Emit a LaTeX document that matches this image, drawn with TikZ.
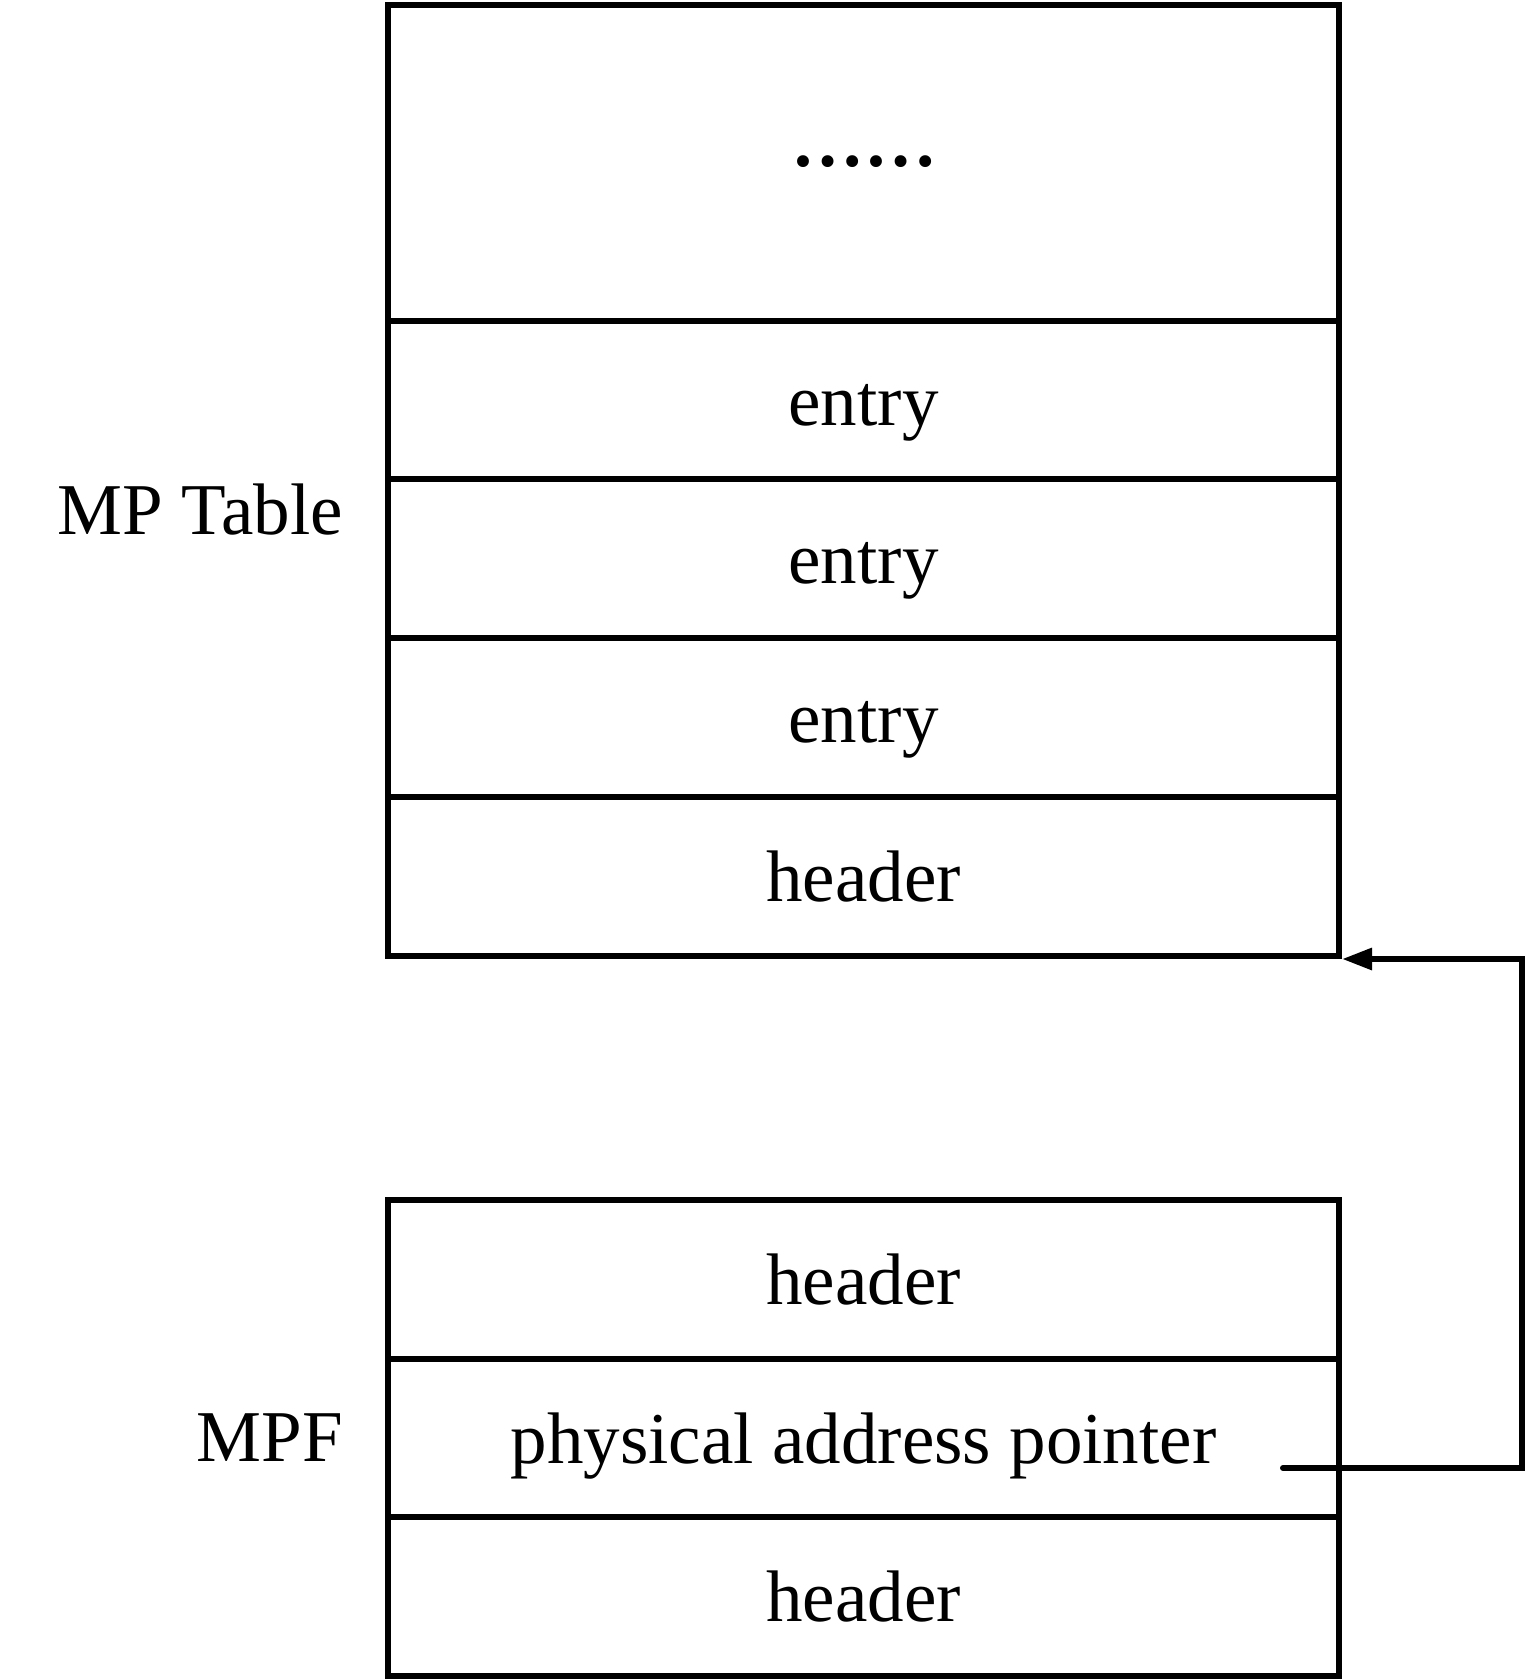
\documentclass[tikz,border=0pt]{standalone}
\usepackage{fontspec}
\setmainfont{Liberation Serif}
\usetikzlibrary{arrows.meta}
\begin{document}
\begin{tikzpicture}[x=1pt,y=-1pt,
  cell/.style={draw, line width=6pt, minimum width=951pt, inner sep=0pt, text height=50pt, text depth=0pt, font=\fontsize{73}{80}\selectfont},
  lbl/.style={anchor=east, inner sep=0pt, text height=50pt, text depth=0pt, font=\fontsize{73}{80}\selectfont},
  conn/.style={line width=6pt, line cap=round, line join=miter, -{Triangle[length=30pt,width=21pt]}}]
\useasboundingbox (0,0) rectangle (1527,1680);
\node[cell, minimum height=316pt] (dots) at (863.5,163) {};
\node[font=\fontsize{73}{80}\selectfont\bfseries, inner sep=0pt, anchor=base] (dtxt) at (864.5,167) {……};
\node[cell, minimum height=158pt] (e1) at (863.5,400) {entry};
\node[cell, minimum height=159pt] (e2) at (863.5,558.5) {entry};
\node[cell, minimum height=159pt] (e3) at (863.5,717.5) {entry};
\node[cell, minimum height=159pt] (h1) at (863.5,876.5) {header};
\node[cell, minimum height=159pt] (m1) at (863.5,1279.5) {header};
\node[cell, minimum height=158pt] (m2) at (863.5,1438) {physical address pointer};
\node[cell, minimum height=159pt] (m3) at (863.5,1596.5) {header};
\node[lbl] (mpt) at (343,509) {MP Table};
\node[lbl] (mpf) at (343,1436) {MPF};
\coordinate (ps) at (1283,1468);
\coordinate (pc1) at (1522,1468);
\draw[conn] (ps) -- (pc1) |- (h1.south east);
\end{tikzpicture}
\end{document}
